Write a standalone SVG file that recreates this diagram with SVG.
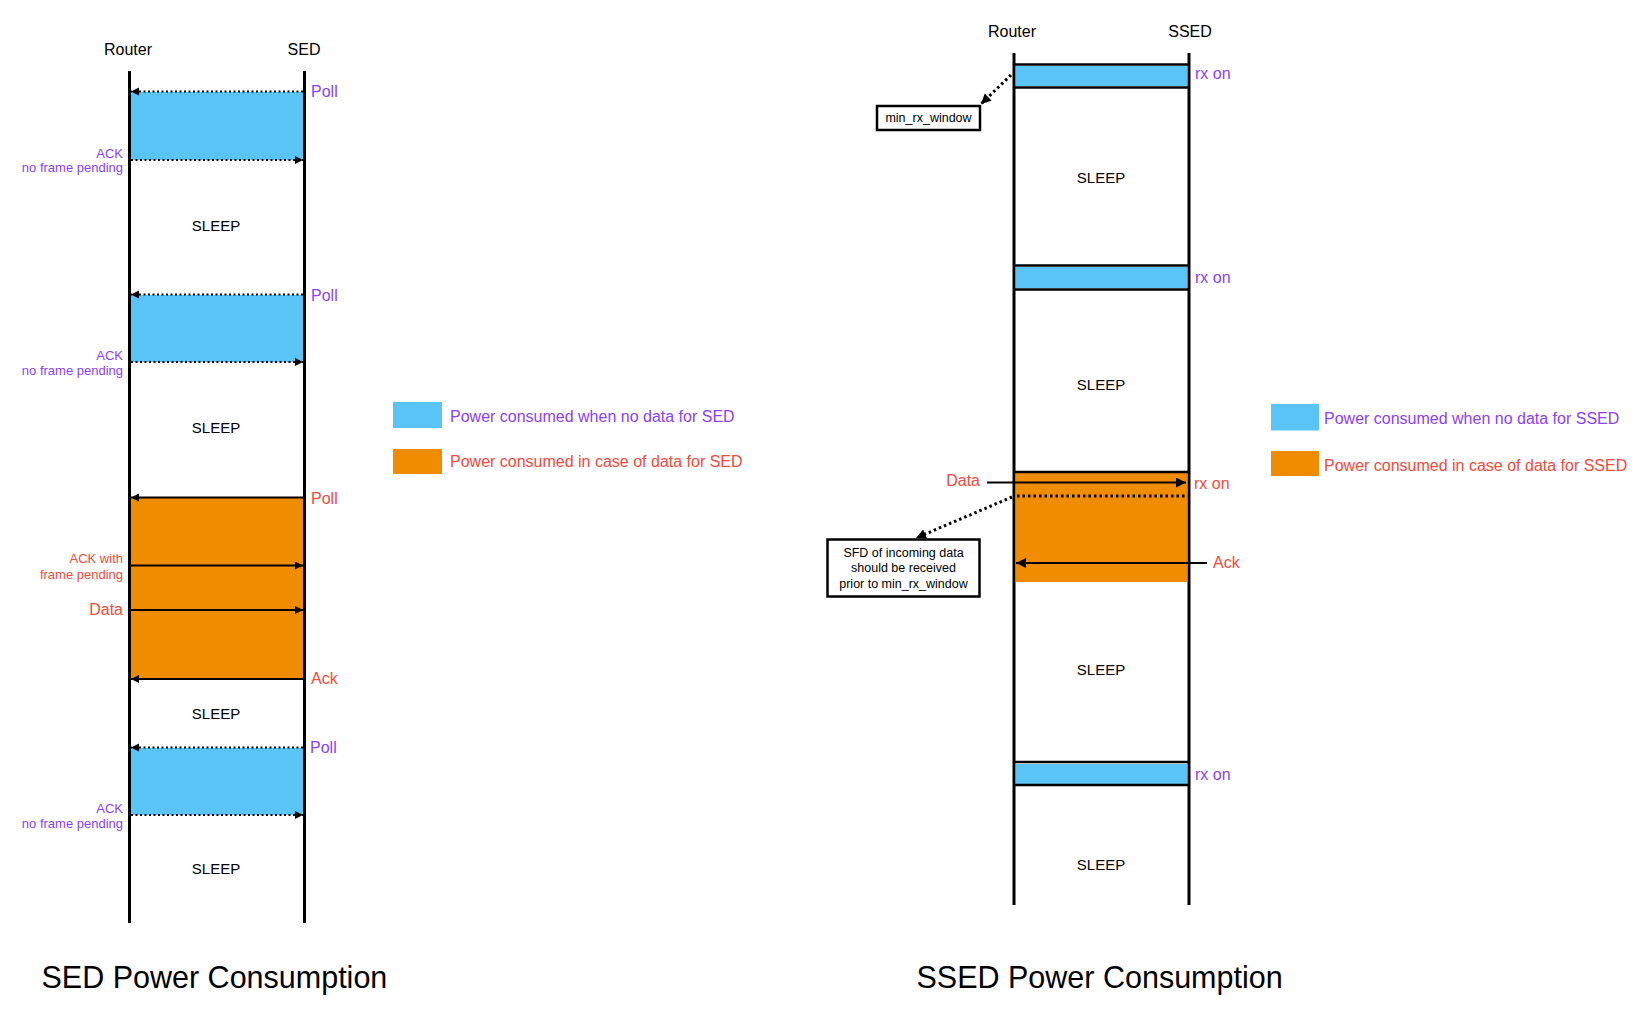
<svg xmlns="http://www.w3.org/2000/svg" width="1652" height="1012" viewBox="0 0 1652 1012">
<defs>
<style>
text{font-family:"Liberation Sans",Arial,sans-serif;fill:#000}
.hdr{font-size:16px;text-anchor:middle}
.sleep{font-size:15px;text-anchor:middle}
.pur{fill:#8B3FFA}
.red{fill:#F24A3C}
.lab{font-size:16px}
.sm{font-size:13px;text-anchor:end}
.note{font-size:12.5px;text-anchor:middle}
.title{font-size:30.5px}
.life{stroke:#000;stroke-width:3;fill:none}
.blue{fill:#5AC4F6}
.orange{fill:#EF8C00}
.edge{stroke:#000;stroke-width:2.5;fill:none}
.dot{stroke:#000;stroke-width:2;stroke-dasharray:2 2.5;fill:none}
.dotb{stroke:#000;stroke-width:3;stroke-dasharray:2.5 3;fill:none}
.sol{stroke:#000;stroke-width:2;fill:none}
.box{fill:#fff;stroke:#000;stroke-width:2.5}
</style>
<marker id="ah" markerUnits="userSpaceOnUse" markerWidth="9" markerHeight="9" refX="8" refY="4" orient="auto">
<path d="M0,0 L8,4 L0,8 z" fill="#000"/>
</marker>
<marker id="ahb" markerUnits="userSpaceOnUse" markerWidth="12" markerHeight="12" refX="10" refY="5" orient="auto">
<path d="M0,0 L10,5 L0,10 z" fill="#000"/>
</marker>
</defs>
<rect width="1652" height="1012" fill="#fff"/>

<!-- Left: SED -->
<g id="sed-blocks">
<rect class="blue" x="131" y="92" width="172" height="68"/>
<rect class="blue" x="131" y="295" width="172" height="67"/>
<rect class="orange" x="131" y="498" width="172" height="181"/>
<rect class="blue" x="131" y="748" width="172" height="67"/>
</g>
<g id="sed-router-lifeline"><line class="life" x1="129.5" y1="71" x2="129.5" y2="923"/><text class="hdr" x="128" y="55">Router</text></g>
<g id="sed-lifeline"><line class="life" x1="304.5" y1="71" x2="304.5" y2="923"/><text class="hdr" x="304" y="55">SED</text></g>

<g id="sed-sleep">
<text class="sleep" x="216" y="231">SLEEP</text>
<text class="sleep" x="216" y="433">SLEEP</text>
<text class="sleep" x="216" y="719">SLEEP</text>
<text class="sleep" x="216" y="874">SLEEP</text>
</g>

<g id="sed-labels">
<text class="lab pur" x="311" y="97">Poll</text>
<text class="sm pur" x="123" y="157.5">ACK</text>
<text class="sm pur" x="123" y="172">no frame pending</text>
<text class="lab pur" x="311" y="300.5">Poll</text>
<text class="sm pur" x="123" y="360">ACK</text>
<text class="sm pur" x="123" y="375">no frame pending</text>
<text class="lab red" x="311" y="504">Poll</text>
<text class="sm red" x="123" y="562.5">ACK with</text>
<text class="sm red" x="123" y="578.5">frame pending</text>
<text class="lab red" x="123" y="615" text-anchor="end">Data</text>
<text class="lab red" x="311" y="684">Ack</text>
<text class="lab pur" x="310" y="753">Poll</text>
<text class="sm pur" x="123" y="812.5">ACK</text>
<text class="sm pur" x="123" y="827.5">no frame pending</text>
</g>

<!-- Right: SSED -->
<g id="ssed-blocks">
<rect class="blue" x="1016" y="66" width="171" height="20"/>
<rect class="blue" x="1016" y="267" width="171" height="21"/>
<rect class="orange" x="1016" y="473" width="171" height="109"/>
<rect class="blue" x="1016" y="764" width="171" height="20"/>
<line class="edge" x1="1014" y1="64.5" x2="1189" y2="64.5"/>
<line class="edge" x1="1014" y1="87.5" x2="1189" y2="87.5"/>
<line class="edge" x1="1014" y1="265.5" x2="1189" y2="265.5"/>
<line class="edge" x1="1014" y1="289.5" x2="1189" y2="289.5"/>
<line class="edge" x1="1014" y1="472" x2="1189" y2="472"/>
<line class="edge" x1="1014" y1="762" x2="1189" y2="762"/>
<line class="edge" x1="1014" y1="785" x2="1189" y2="785"/>
</g>
<g id="ssed-router-lifeline"><line class="life" x1="1014" y1="53" x2="1014" y2="905"/><text class="hdr" x="1012" y="37">Router</text></g>
<g id="ssed-lifeline"><line class="life" x1="1189" y1="53" x2="1189" y2="905"/><text class="hdr" x="1190" y="37">SSED</text></g>

<g id="ssed-sleep">
<text class="sleep" x="1101" y="183">SLEEP</text>
<text class="sleep" x="1101" y="390">SLEEP</text>
<text class="sleep" x="1101" y="675">SLEEP</text>
<text class="sleep" x="1101" y="870">SLEEP</text>
</g>

<g id="ssed-labels">
<text class="lab pur" x="1195" y="79">rx on</text>
<text class="lab pur" x="1195" y="282.5">rx on</text>
<text class="lab red" x="1194" y="489">rx on</text>
<text class="lab red" x="980" y="486" text-anchor="end">Data</text>
<text class="lab red" x="1213" y="568">Ack</text>
<text class="lab pur" x="1195" y="780">rx on</text>
</g>

<g id="min-rx-window">
<rect class="box" x="877" y="106" width="103" height="24"/>
<text class="note" x="928.5" y="122">min_rx_window</text>
</g>
<g id="sfd-note">
<rect class="box" x="827.5" y="539.5" width="152" height="57"/>
<text class="note" x="903.5" y="556.5">SFD of incoming data</text>
<text class="note" x="903.5" y="572">should be received</text>
<text class="note" x="903.5" y="587.5">prior to min_rx_window</text>
</g>

<g id="legend-sed">
<rect class="blue" x="393" y="402" width="49" height="26"/>
<text class="lab pur" x="450" y="421.5">Power consumed when no data for SED</text>
<rect class="orange" x="393" y="449" width="49" height="25"/>
<text class="lab red" x="450" y="467">Power consumed in case of data for SED</text>
</g>
<g id="legend-ssed">
<rect class="blue" x="1271" y="404" width="48" height="26.5"/>
<text class="lab pur" x="1324" y="423.5">Power consumed when no data for SSED</text>
<rect class="orange" x="1271" y="451" width="48" height="25"/>
<text class="lab red" x="1324" y="471">Power consumed in case of data for SSED</text>
</g>

<g id="titles">
<text class="title" x="41.5" y="988">SED Power Consumption</text>
<text class="title" x="916.5" y="988">SSED Power Consumption</text>
</g>

<g id="connectors">
<line class="dot" x1="303" y1="91.5" x2="131" y2="91.5" marker-end="url(#ah)"/>
<line class="dot" x1="131" y1="160" x2="303" y2="160" marker-end="url(#ah)"/>
<line class="dot" x1="303" y1="294.5" x2="131" y2="294.5" marker-end="url(#ah)"/>
<line class="dot" x1="131" y1="362" x2="303" y2="362" marker-end="url(#ah)"/>
<line class="sol" x1="303" y1="497.5" x2="131" y2="497.5" marker-end="url(#ah)"/>
<line class="sol" x1="131" y1="565.5" x2="303" y2="565.5" marker-end="url(#ah)"/>
<line class="sol" x1="131" y1="610" x2="303" y2="610" marker-end="url(#ah)"/>
<line class="sol" x1="303" y1="679" x2="131" y2="679" marker-end="url(#ah)"/>
<line class="dot" x1="303" y1="747.5" x2="131" y2="747.5" marker-end="url(#ah)"/>
<line class="dot" x1="131" y1="815" x2="303" y2="815" marker-end="url(#ah)"/>

<line class="sol" x1="987" y1="482.5" x2="1186" y2="482.5" marker-end="url(#ahb)"/>
<line class="dotb" x1="1017" y1="496" x2="1187" y2="496"/>
<line class="sol" x1="1207" y1="563" x2="1016" y2="563" marker-end="url(#ahb)"/>
<line class="dotb" x1="1011" y1="75" x2="981" y2="104" marker-end="url(#ahb)"/>
<line class="dotb" x1="1012" y1="497" x2="916" y2="538" marker-end="url(#ahb)"/>
</g>
</svg>
